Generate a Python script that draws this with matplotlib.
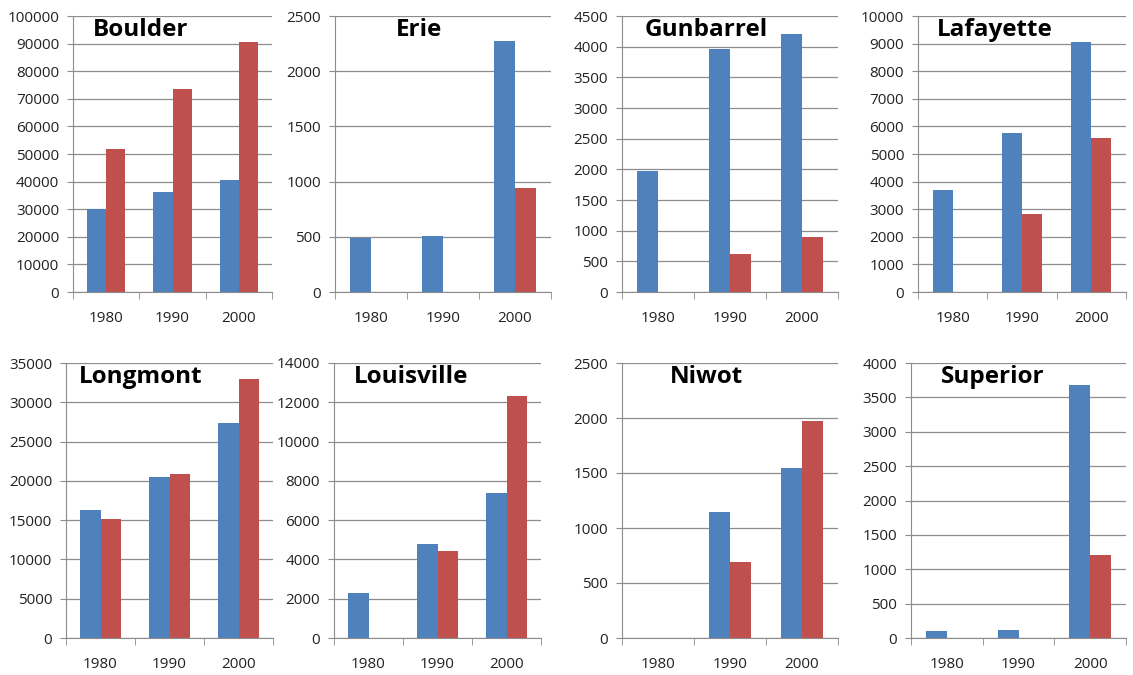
import matplotlib.pyplot as plt
import numpy as np

years = ['1980', '1990', '2000']
towns = ['Boulder', 'Erie', 'Gunbarrel', 'Lafayette',
         'Longmont', 'Louisville', 'Niwot', 'Superior']

# blue series and red series per town
blue = {
    'Boulder':    [30100, 36250, 40450],
    'Erie':       [490, 510, 2275],
    'Gunbarrel':  [1970, 3960, 4200],
    'Lafayette':  [3710, 5760, 9070],
    'Longmont':   [16330, 20440, 27380],
    'Louisville': [2285, 4790, 7400],
    'Niwot':      [0, 1145, 1545],
    'Superior':   [97, 120, 3685],
}
red = {
    'Boulder':    [51800, 73490, 90700],
    'Erie':       [0, 0, 943],
    'Gunbarrel':  [0, 622, 895],
    'Lafayette':  [0, 2843, 5575],
    'Longmont':   [15150, 20820, 32920],
    'Louisville': [0, 4435, 12300],
    'Niwot':      [0, 695, 1970],
    'Superior':   [0, 0, 1208],
}
ymax = {'Boulder': 100000, 'Erie': 2500, 'Gunbarrel': 4500, 'Lafayette': 10000,
        'Longmont': 35000, 'Louisville': 14000, 'Niwot': 2500, 'Superior': 4000}
ystep = {'Boulder': 10000, 'Erie': 500, 'Gunbarrel': 500, 'Lafayette': 1000,
         'Longmont': 5000, 'Louisville': 2000, 'Niwot': 500, 'Superior': 500}

# axes boxes in pixels: left, right, top, bottom
boxes = {
    'Boulder':    (73, 272, 16, 292),
    'Erie':       (335, 551, 16, 292),
    'Gunbarrel':  (622, 838, 16, 292),
    'Lafayette':  (918, 1126, 16, 292),
    'Longmont':   (66, 273, 363, 638),
    'Louisville': (334, 541, 363, 638),
    'Niwot':      (622, 838, 363, 638),
    'Superior':   (911, 1126, 363, 638),
}
title_x = {'Boulder': 0.34, 'Erie': 0.39, 'Gunbarrel': 0.39, 'Lafayette': 0.37,
           'Longmont': 0.36, 'Louisville': 0.37, 'Niwot': 0.39, 'Superior': 0.38}

W, H = 1133, 675
fig = plt.figure(figsize=(W / 100, H / 100), dpi=100)
plt.rcParams['font.family'] = ['Open Sans', 'DejaVu Sans']

grid_c = '#8c8c8c'
x = np.arange(len(years))
bw = 0.29

for t in towns:
    l, r, tp, b = boxes[t]
    ax = fig.add_axes([l / W, 1 - b / H, (r - l) / W, (b - tp) / H])
    ax.bar(x - bw / 2, blue[t], bw, color='#4F81BD')
    ax.bar(x + bw / 2, red[t], bw, color='#C0504D')
    ax.set_xlim(-0.5, 2.5)
    ax.set_ylim(0, ymax[t])
    ax.set_yticks(np.arange(0, ymax[t] + 1, ystep[t]))
    ax.set_xticks(x)
    ax.set_xticklabels(years)
    ax.set_xticks([-0.5, 0.5, 1.5, 2.5], minor=True)
    ax.tick_params(axis='x', which='major', length=0, pad=14, labelsize=11, colors='#222222')
    ax.tick_params(axis='x', which='minor', length=5, color=grid_c)
    ax.tick_params(axis='y', length=4, labelsize=11, colors='#222222', pad=6)
    ax.tick_params(axis='y', color=grid_c)
    ax.yaxis.grid(True, color=grid_c, linewidth=0.9)
    ax.set_axisbelow(True)
    for s in ['top', 'right']:
        ax.spines[s].set_visible(False)
    for s in ['left', 'bottom']:
        ax.spines[s].set_color(grid_c)
    ax.text(title_x[t], 0.95, t, transform=ax.transAxes, ha='center', va='center',
            fontsize=17.5, fontweight='bold', color='black')

fig.savefig('out.png', dpi=100, facecolor='white')
